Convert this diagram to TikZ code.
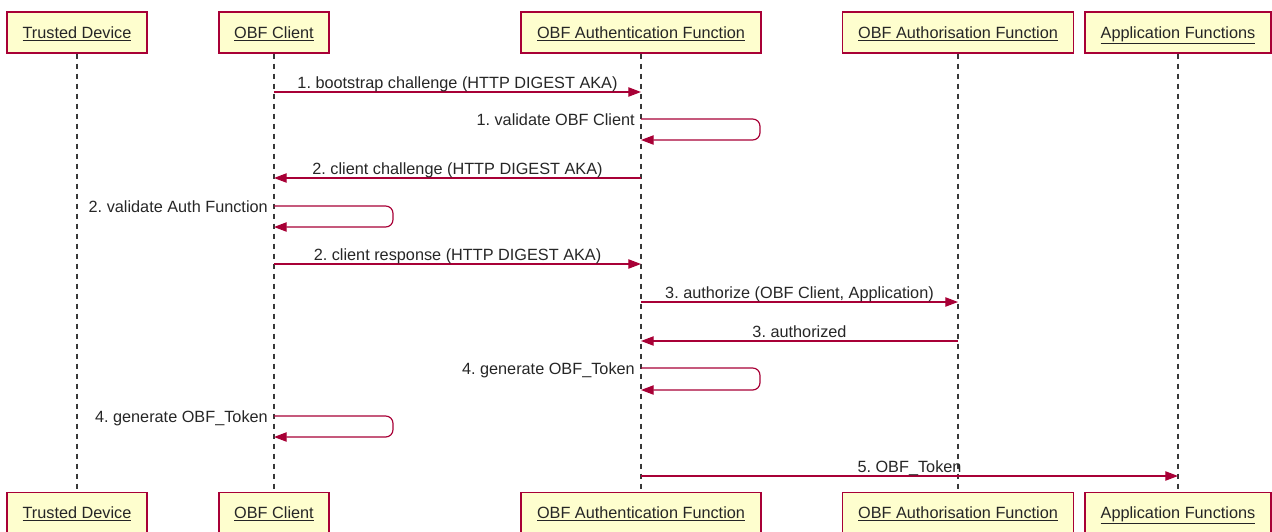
\documentclass[tikz,border=0pt]{standalone}
\usepackage{fontspec}
\setmainfont{Liberation Sans}
\usetikzlibrary{arrows.meta}
\definecolor{umlred}{HTML}{A80036}
\definecolor{umlfill}{HTML}{FEFECE}
\definecolor{lifegray}{HTML}{383838}
\frenchspacing
\begin{document}
\begin{tikzpicture}[x=0.75pt,y=-0.75pt,
  participant/.style={draw=umlred, fill=umlfill, line width=1pt, inner sep=0pt,
    minimum height=30.75pt, text height=10pt, text depth=1.75pt,
    font=\fontsize{12.2}{14}\selectfont, text=black!85},
  lifeline/.style={draw=lifegray, line width=0.8pt, dash pattern=on 3.75pt off 3.75pt},
  msg/.style={draw=umlred, line width=0.9pt, -{Triangle[length=9.5pt,width=7pt]}},
  selfmsg/.style={msg, rounded corners=5.5pt},
  lbl/.style={font=\fontsize{12.2}{14}\selectfont, text=black!85, inner sep=0pt},
]
\useasboundingbox (0,0) rectangle (1272,532);

% participants, top row
\node[participant, minimum width=105pt]    (td)  at (77,32.5)   {\underline{Trusted Device}};
\node[participant, minimum width=82.5pt]   (cl)  at (274,32.5)  {\underline{OBF Client}};
\node[participant, minimum width=180pt]    (au)  at (641,32.5)  {\underline{OBF Authentication Function}};
\node[participant, minimum width=173.25pt] (az)  at (958,32.5)  {\underline{OBF Authorisation Function}};
\node[participant, minimum width=139.5pt]  (ap)  at (1178,32.5) {\underline{Application Functions}};

% participants, bottom row
\node[participant, minimum width=105pt]    (tdb) at (77,513)    {\underline{Trusted Device}};
\node[participant, minimum width=82.5pt]   (clb) at (274,513)   {\underline{OBF Client}};
\node[participant, minimum width=180pt]    (aub) at (641,513)   {\underline{OBF Authentication Function}};
\node[participant, minimum width=173.25pt] (azb) at (958,513)   {\underline{OBF Authorisation Function}};
\node[participant, minimum width=139.5pt]  (apb) at (1178,513)  {\underline{Application Functions}};

% lifelines
\draw[lifeline] (td.south) -- (tdb.north);
\draw[lifeline] (cl.south) -- (clb.north);
\draw[lifeline] (au.south) -- (aub.north);
\draw[lifeline] (az.south) -- (azb.north);
\draw[lifeline] (ap.south) -- (apb.north);

% message end points on the lifelines
\path (cl.south |- 0,92)  coordinate (m1a) (au.south |- 0,92)  coordinate (m1b);
\path (au.south |- 0,119) coordinate (s1a) (au.south |- 0,140) coordinate (s1b);
\path (au.south |- 0,178) coordinate (m2a) (cl.south |- 0,178) coordinate (m2b);
\path (cl.south |- 0,206) coordinate (s2a) (cl.south |- 0,227) coordinate (s2b);
\path (cl.south |- 0,264) coordinate (m3a) (au.south |- 0,264) coordinate (m3b);
\path (au.south |- 0,302) coordinate (m4a) (az.south |- 0,302) coordinate (m4b);
\path (az.south |- 0,341) coordinate (m5a) (au.south |- 0,341) coordinate (m5b);
\path (au.south |- 0,368) coordinate (s3a) (au.south |- 0,390) coordinate (s3b);
\path (cl.south |- 0,416) coordinate (s4a) (cl.south |- 0,437) coordinate (s4b);
\path (au.south |- 0,476) coordinate (m6a) (ap.south |- 0,476) coordinate (m6b);

% messages
\draw[msg] (m1a) -- node[lbl, anchor=base, yshift=3pt] {1. bootstrap challenge (HTTP DIGEST AKA)} (m1b);

\draw[selfmsg] (s1a) -- ++(119,0) -- ++(0,21) -- (s1b);
\node[lbl, anchor=base east, xshift=-4.5pt, yshift=-5pt] (l1) at (s1a) {1. validate OBF Client};

\draw[msg] (m2a) -- node[lbl, anchor=base, yshift=3pt] {2. client challenge (HTTP DIGEST AKA)} (m2b);

\draw[selfmsg] (s2a) -- ++(119,0) -- ++(0,21) -- (s2b);
\node[lbl, anchor=base east, xshift=-4.5pt, yshift=-5pt] (l2) at (s2a) {2. validate Auth Function};

\draw[msg] (m3a) -- node[lbl, anchor=base, yshift=3pt] {2. client response (HTTP DIGEST AKA)} (m3b);
\draw[msg] (m4a) -- node[lbl, anchor=base, yshift=3pt] {3. authorize (OBF Client, Application)} (m4b);
\draw[msg] (m5a) -- node[lbl, anchor=base, yshift=3pt] {3. authorized} (m5b);

\draw[selfmsg] (s3a) -- ++(119,0) -- ++(0,22) -- (s3b);
\node[lbl, anchor=base east, xshift=-4.5pt, yshift=-5pt] (l3) at (s3a) {4. generate OBF\_Token};

\draw[selfmsg] (s4a) -- ++(119,0) -- ++(0,21) -- (s4b);
\node[lbl, anchor=base east, xshift=-4.5pt, yshift=-5pt] (l4) at (s4a) {4. generate OBF\_Token};

\draw[msg] (m6a) -- node[lbl, anchor=base, yshift=3pt] {5. OBF\_Token} (m6b);
\end{tikzpicture}
\end{document}
